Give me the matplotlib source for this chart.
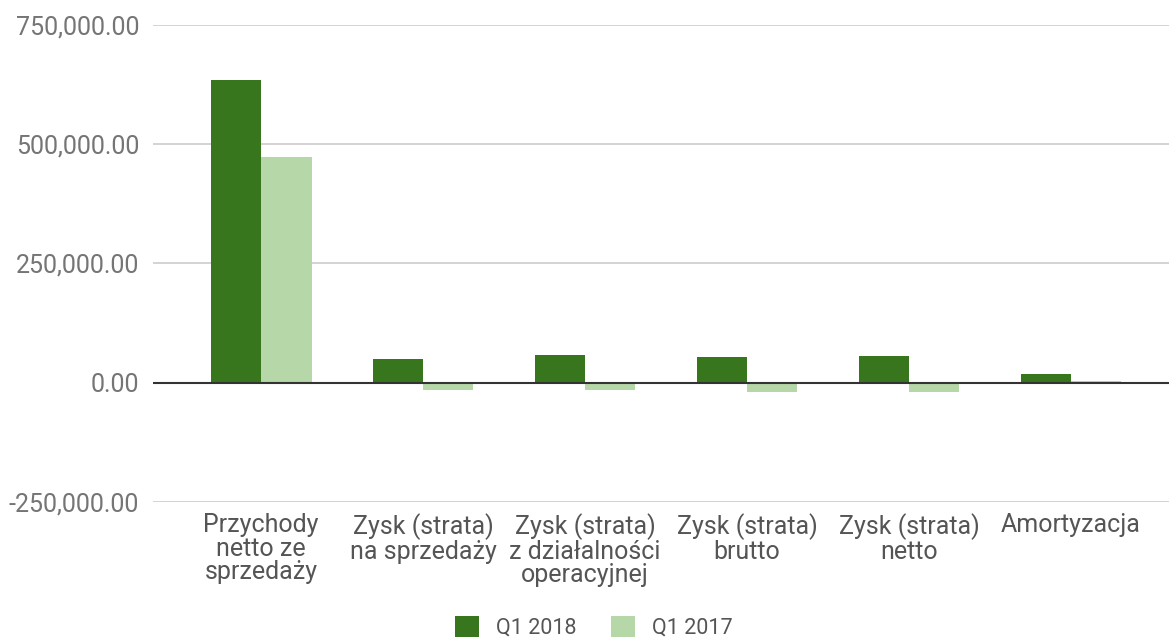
import matplotlib
matplotlib.use("Agg")
import matplotlib.pyplot as plt
import numpy as np
from matplotlib.patches import Patch
from matplotlib.ticker import FuncFormatter

categories = ["Przychody\nnetto ze\nsprzedaży", "Zysk (strata)\nna sprzedaży",
              "Zysk (strata)\nz działalności\noperacyjnej", "Zysk (strata)\nbrutto",
              "Zysk (strata)\nnetto", "Amortyzacja"]
q1_2018 = [634000, 49700, 58000, 54500, 55100, 18900]
q1_2017 = [472100, -15300, -15000, -20300, -20300, 2500]
series_names = ["Q1 2018", "Q1 2017"]
yticks = [-250000, 0, 250000, 500000, 750000]

c_dark = "#38761d"
c_light = "#b6d7a8"

plt.rcParams['font.family'] = ['Roboto', 'DejaVu Sans']
fig = plt.figure(figsize=(11.69, 6.39), dpi=100)
ax = fig.add_axes([153/1169, 1-502/639, (1169-153)/1169, (502-24.5)/639])

x = np.arange(len(categories))
w = 0.309
off = 0.157
ax.bar(x - off, q1_2018, width=w, color=c_dark, zorder=3)
ax.bar(x + off, q1_2017, width=w, color=c_light, zorder=3)

ax.set_xlim(-0.667, 5.605)
ax.set_ylim(-250000, 750000)
ax.set_yticks(yticks)
ax.yaxis.set_major_formatter(FuncFormatter(lambda v, p: f"{v:,.2f}"))
ax.grid(axis='y', color='#cccccc', linewidth=1.2, zorder=0)
ax.axhline(0, color='#333333', linewidth=1.5, zorder=4)
for s in ax.spines.values():
    s.set_visible(False)
ax.tick_params(axis='y', length=0, pad=10, labelsize=18, labelcolor='#757575')
ax.tick_params(axis='x', length=0, pad=8, labelsize=18, labelcolor='#555555')
ax.set_xticks(x)
ax.set_xticklabels(categories, linespacing=0.98, va='top', ha='center')

handles = [Patch(facecolor=c_dark, edgecolor='none'), Patch(facecolor=c_light, edgecolor='none')]
fig.legend(handles, series_names, loc='lower center', bbox_to_anchor=(0.508, -0.03), ncol=2,
           frameon=False, fontsize=15.5, labelcolor='#555555', handlelength=1.1, handleheight=1.1,
           columnspacing=1.6, handletextpad=0.8)

fig.savefig("out.png", dpi=100)
